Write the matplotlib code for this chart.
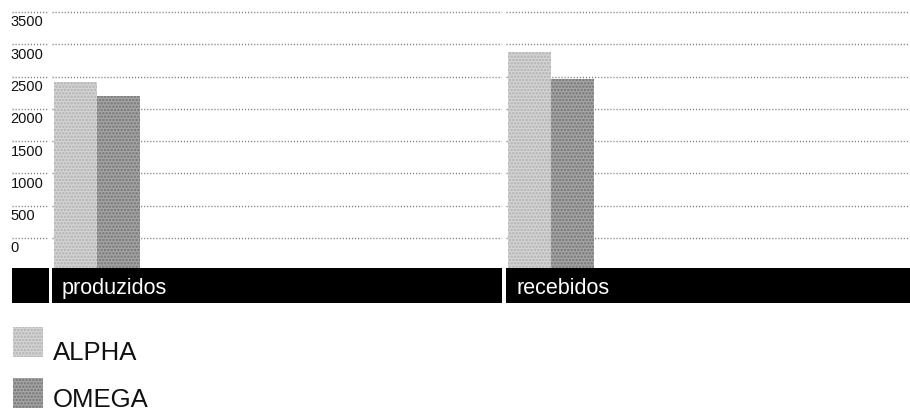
import matplotlib
matplotlib.use("Agg")
import matplotlib.pyplot as plt
from matplotlib.patches import Rectangle

plt.rcParams['font.family'] = ['Liberation Sans', 'DejaVu Sans']
plt.rcParams['hatch.linewidth'] = 1.2

# data
categories = ['produzidos', 'recebidos']
series = ['ALPHA', 'OMEGA']
alpha_vals = [2420, 2880]
omega_vals = [2200, 2460]
yticks = [0, 500, 1000, 1500, 2000, 2500, 3000, 3500]

face = {'ALPHA': '#d4d4d4', 'OMEGA': '#a6a6a6'}
dots = {'ALPHA': '#b0b0b0', 'OMEGA': '#727272'}

W, H = 910, 412
fig = plt.figure(figsize=(W / 100, H / 100), dpi=100)


def px_axes(x0, y0, x1, y1):
    # pixel box (top-left origin) -> axes
    return fig.add_axes([x0 / W, 1 - y1 / H, (x1 - x0) / W, (y1 - y0) / H])


ylo, yhi = -465, 3686
plot_top, plot_bot = 0, 268
band_top, band_bot = 268, 303
panels = [(52, 502), (506, 910)]
bar_px = 43.0
grid_kw = dict(color='#7a7a7a', linewidth=1.0, linestyle=(0, (0.8, 1.4)))


def clean(ax):
    ax.set_ylim(ylo, yhi)
    for s in ax.spines.values():
        s.set_visible(False)
    ax.set_xticks([])
    ax.set_yticks([])
    ax.patch.set_alpha(0)


# y labels column
lab = px_axes(12, plot_top, 48, plot_bot)
clean(lab)
lab.set_xlim(0, 1)
for t in yticks:
    lab.axhline(t, **grid_kw)
    lab.annotate(str(t), (0, t), xytext=(-1, -2.5), textcoords='offset points',
                 ha='left', va='top', fontsize=10.5, color='#111111')

vals = {'ALPHA': alpha_vals, 'OMEGA': omega_vals}
for ci, (cat, (x0, x1)) in enumerate(zip(categories, panels)):
    ax = px_axes(x0, plot_top, x1, plot_bot)
    clean(ax)
    ax.set_xlim(0, (x1 - x0) / bar_px)
    for t in yticks:
        ax.axhline(t, zorder=1, **grid_kw)
    for si, name in enumerate(series):
        v = vals[name][ci]
        ax.bar(0.05 + si, v - ylo, bottom=ylo, width=1, align='edge',
               facecolor=face[name], edgecolor=dots[name], linewidth=0,
               hatch='.....', zorder=2)
    band = px_axes(x0, band_top, x1, band_bot)
    band.set_facecolor('black')
    band.set_xticks([])
    band.set_yticks([])
    for s in band.spines.values():
        s.set_visible(False)
    band.text(10 / (x1 - x0), 0.42, cat, transform=band.transAxes, color='white',
              fontsize=15.5, ha='left', va='center')

# small black box under the label column
box = px_axes(12, band_top, 49, band_bot)
box.set_facecolor('black')
box.set_xticks([])
box.set_yticks([])
for s in box.spines.values():
    s.set_visible(False)

# legend
swatch_tops = [327, 378]
text_base = [360, 407]
for i, name in enumerate(series):
    y0 = swatch_tops[i]
    fig.patches.append(Rectangle((13 / W, 1 - (y0 + 30) / H), 30 / W, 30 / H,
                                 transform=fig.transFigure, facecolor=face[name],
                                 edgecolor=dots[name], linewidth=0, hatch='.....'))
    fig.text(53 / W, 1 - text_base[i] / H, name, fontsize=18.5, color='#111111',
             ha='left', va='baseline')

fig.savefig('out.png', dpi=100, facecolor='white')
